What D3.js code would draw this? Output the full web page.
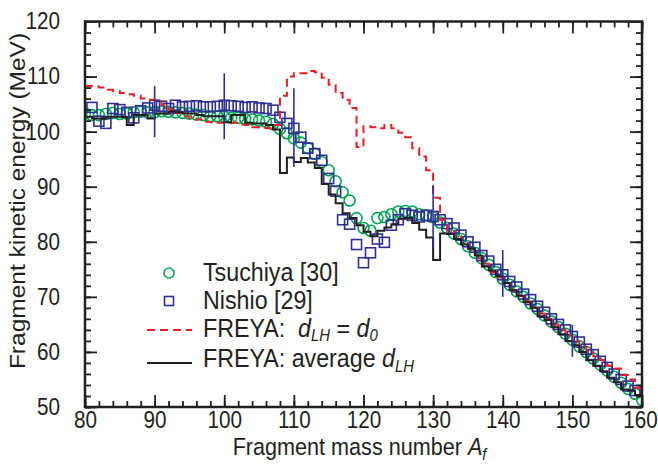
<!DOCTYPE html>
<html>
<head>
<meta charset="utf-8">
<script src="https://cdn.jsdelivr.net/npm/d3@7"></script>
<style>
  body { margin: 0; background: #fff; }
  svg text { font-family: "Liberation Sans", Arial, sans-serif; fill: #231f20; }
</style>
</head>
<body>
<svg id="chart" width="658" height="464"></svg>
<script>
// Tsuchiya [30], A = 80..160
const tsuA = d3.range(80, 161);
const tsuE = [103.3, 103.0, 103.0, 103.2, 103.4, 103.2, 103.3, 103.5, 103.6, 103.5,
  103.5, 103.7, 103.6, 103.5, 103.4, 103.3, 103.1, 103.0, 102.8, 102.8,
  102.7, 102.5, 102.5, 102.3, 102.2, 102.0, 101.8, 101.4, 100.5, 99.7,
  98.8, 98.0, 97.0, 96.0, 94.5, 93.0, 91.0, 89.0, 87.5, 84.3,
  82.5, 82.0, 84.3, 84.5, 85.0, 85.5, 85.6, 85.5, 85.0, 84.8,
  84.5, 83.5, 82.5, 81.5, 80.5, 79.2, 78.0, 77.0, 75.8, 74.5,
  73.3, 72.2, 71.0, 70.0, 68.8, 67.8, 66.6, 65.5, 64.5, 63.3,
  62.2, 61.0, 60.0, 58.8, 57.7, 56.6, 55.5, 54.4, 53.3, 52.4, 51.3];

// Nishio [29], A = 81..159
const niA = d3.range(81, 160);
const niE = [104.4, 101.9, 101.5, 104.2, 104.0, 103.5, 102.5, 103.8, 104.3,
  104.8, 104.6, 104.2, 104.8, 104.5, 104.6, 104.7, 104.5, 104.5, 104.6,
  104.8, 104.7, 104.6, 104.4, 104.5, 104.3, 104.2, 103.9, 102.6, 101.5,
  100.6, 99.0, 97.0, 96.0, 94.8, 91.5, 89.2, 84.0, 83.2, 79.5,
  76.2, 78.0, 80.5, 79.9, 83.0, 84.0, 85.1, 84.8, 84.5, 84.8,
  84.6, 84.0, 83.3, 82.5, 81.2, 80.0, 79.0, 77.5, 76.5, 75.0,
  74.0, 72.8, 71.8, 70.5, 69.5, 68.3, 67.2, 66.0, 65.0, 64.0,
  62.8, 61.8, 60.5, 59.5, 58.3, 57.2, 56.0, 55.0, 53.8, 53.0];

// error bars on Nishio data
const errA = [90, 100, 110, 130, 140, 150];
const errLo = [99.0, 98.6, 93.6, 79.0, 70.0, 59.1];
const errHi = [108.3, 110.6, 107.9, 90.3, 78.5, 64.9];

// FREYA histograms, bins [A, A+1), A = 80..159
const binA = d3.range(80, 160);
const freyaD0 = [108.3, 108.2, 108.0, 107.6, 107.4, 107.0, 106.8, 106.5, 106.0, 105.8,
  105.5, 104.8, 104.0, 103.4, 102.8, 102.4, 102.2, 101.8, 101.7, 101.6,
  101.6, 101.6, 101.3, 101.2, 100.8, 100.7, 100.6, 101.2, 106.5, 110.0,
  110.6, 110.6, 111.0, 110.8, 109.8, 108.5, 107.0, 105.8, 104.3, 97.2,
  101.0, 100.8, 100.6, 101.2, 100.6, 99.8, 99.0, 97.0, 95.5, 93.0,
  88.0, 84.0, 82.0, 81.0, 79.8, 78.5, 77.0, 76.0, 74.5, 73.5,
  72.5, 71.2, 70.2, 69.2, 68.0, 67.0, 66.0, 65.0, 64.0, 63.0,
  62.0, 61.0, 60.3, 59.2, 58.5, 57.5, 57.0, 55.8, 55.0, 53.5];
const freyaAvg = [102.7, 102.4, 102.4, 102.7, 102.7, 102.7, 101.2, 103.0, 103.0, 102.4,
  103.3, 103.3, 103.6, 103.5, 103.3, 103.3, 103.0, 102.8, 102.8, 102.8,
  101.7, 103.0, 103.0, 101.6, 101.5, 101.5, 101.2, 100.4, 92.5, 95.3,
  94.5, 95.2, 94.4, 93.4, 90.5, 88.6, 87.0, 85.2, 84.3, 83.0,
  81.8, 81.0, 82.0, 82.6, 83.2, 84.2, 84.3, 83.4, 82.2, 80.8,
  76.7, 81.5, 81.4, 80.5, 79.5, 78.8, 77.5, 75.5, 74.8, 73.8,
  72.5, 71.2, 70.2, 69.0, 68.0, 66.5, 65.8, 64.5, 63.2, 62.0,
  61.2, 60.0, 58.5, 57.5, 56.5, 55.3, 54.5, 53.2, 53.0, 52.2];

const xMajor = d3.range(80, 161, 10);
const xMinor = d3.range(80, 161, 2);
const yMajor = d3.range(50, 121, 10);
const yMinor = d3.range(50, 121, 2);

const green = "#00a651", blue = "#2e3192", red = "#ed1c24", ink = "#231f20";

const svg = d3.select("#chart");
const pLeft = 85, pRight = 642, pTop = 21.5, pBottom = 407;

const x = d3.scaleLinear().domain([80, 160]).range([pLeft, pRight]);
const y = d3.scaleLinear().domain([50, 120]).range([pBottom, pTop]);

// text in the figure is a bit taller than it is wide
const sx = 0.9;
const squeeze = (sel, ax, k = sx) => sel.attr("transform", `translate(${ax},0) scale(${k},1) translate(${-ax},0)`);

const plot = svg.append("g");
plot.append("clipPath").attr("id", "clip")
  .append("rect").attr("x", pLeft).attr("y", pTop).attr("width", pRight - pLeft).attr("height", pBottom - pTop);

const data = plot.append("g").attr("clip-path", "url(#clip)");

const step = d3.line().x(d => x(d[0])).y(d => y(d[1])).curve(d3.curveStepAfter);
const stepPts = vals => {
  const pts = binA.map((a, i) => [a, vals[i]]);
  pts.push([binA[binA.length - 1] + 1, vals[vals.length - 1]]);
  return pts;
};

// Tsuchiya circles
data.selectAll("circle.tsu")
  .data(tsuA.map((a, i) => [a, tsuE[i]]))
  .join("circle")
  .attr("class", "tsu")
  .attr("cx", d => x(d[0])).attr("cy", d => y(d[1]))
  .attr("r", 5.5)
  .attr("fill", "none").attr("stroke", green).attr("stroke-width", 1.6);

// Nishio squares
const sq = 10;
data.selectAll("rect.ni")
  .data(niA.map((a, i) => [a, niE[i]]))
  .join("rect")
  .attr("class", "ni")
  .attr("x", d => x(d[0]) - sq / 2).attr("y", d => y(d[1]) - sq / 2)
  .attr("width", sq).attr("height", sq)
  .attr("fill", "none").attr("stroke", blue).attr("stroke-width", 1.6);

// FREYA step lines
data.append("path")
  .attr("d", step(stepPts(freyaD0)))
  .attr("fill", "none").attr("stroke", red).attr("stroke-width", 2)
  .attr("stroke-dasharray", "8,5");

data.append("path")
  .attr("d", step(stepPts(freyaAvg)))
  .attr("fill", "none").attr("stroke", ink).attr("stroke-width", 2);

// error bars
data.selectAll("line.err")
  .data(errA.map((a, i) => [a, errLo[i], errHi[i]]))
  .join("line")
  .attr("class", "err")
  .attr("x1", d => x(d[0])).attr("x2", d => x(d[0]))
  .attr("y1", d => y(d[1])).attr("y2", d => y(d[2]))
  .attr("stroke", blue).attr("stroke-width", 1.6);

// axes with inward ticks on all four sides
const fs = "23px";
function styleAxis(g) {
  g.select(".domain").remove();
  g.selectAll(".tick line").attr("stroke", ink).attr("stroke-width", 1.8);
  g.selectAll(".tick text").attr("font-size", fs).attr("fill", ink);
}
svg.append("g").attr("transform", `translate(0,${pBottom})`)
  .call(d3.axisBottom(x).tickValues(xMinor).tickSize(-6).tickFormat("")).call(styleAxis);
svg.append("g").attr("transform", `translate(0,${pBottom})`)
  .call(d3.axisBottom(x).tickValues(xMajor).tickSize(-12).tickPadding(5).tickFormat(d3.format("d")))
  .call(styleAxis)
  // last label sits at the page edge: nudge it in a little
  .call(g => g.selectAll(".tick text")
    .attr("transform", d => d === 160 ? `translate(-2,0) scale(${sx},1)` : `scale(${sx},1)`));
svg.append("g").attr("transform", `translate(0,${pTop})`)
  .call(d3.axisTop(x).tickValues(xMinor).tickSize(-6).tickFormat("")).call(styleAxis);
svg.append("g").attr("transform", `translate(0,${pTop})`)
  .call(d3.axisTop(x).tickValues(xMajor).tickSize(-12).tickFormat("")).call(styleAxis);
svg.append("g").attr("transform", `translate(${pLeft},0)`)
  .call(d3.axisLeft(y).tickValues(yMinor).tickSize(-6).tickFormat("")).call(styleAxis);
svg.append("g").attr("transform", `translate(${pLeft},0)`)
  .call(d3.axisLeft(y).tickValues(yMajor).tickSize(-12).tickPadding(25).tickFormat(d3.format("d")))
  .call(styleAxis)
  .call(g => squeeze(g.selectAll(".tick text"), -25));
svg.append("g").attr("transform", `translate(${pRight},0)`)
  .call(d3.axisRight(y).tickValues(yMinor).tickSize(-6).tickFormat("")).call(styleAxis);
svg.append("g").attr("transform", `translate(${pRight},0)`)
  .call(d3.axisRight(y).tickValues(yMajor).tickSize(-12).tickFormat("")).call(styleAxis);

svg.append("rect")
  .attr("x", pLeft).attr("y", pTop).attr("width", pRight - pLeft).attr("height", pBottom - pTop)
  .attr("fill", "none").attr("stroke", ink).attr("stroke-width", 2.5);

// axis titles
svg.append("text")
  .attr("transform", `translate(25,201) rotate(-90) scale(1,${sx})`)
  .attr("text-anchor", "middle").attr("font-size", "24.5px")
  .text("Fragment kinetic energy (MeV)");

const xc = (pLeft + pRight) / 2 - 4;
const xt = svg.append("text")
  .attr("x", xc).attr("y", 455)
  .attr("text-anchor", "middle").attr("font-size", "24px")
  .call(squeeze, xc);
xt.append("tspan").text("Fragment mass number ");
xt.append("tspan").attr("font-style", "italic").text("A");
xt.append("tspan").attr("font-style", "italic").attr("font-size", "16px").attr("dy", 5).text("f");

// legend
const lg = svg.append("g");
const tx = 203, lfs = "25px", lk = 0.93;
lg.append("circle").attr("cx", 169).attr("cy", 273).attr("r", 5)
  .attr("fill", "none").attr("stroke", green).attr("stroke-width", 1.6);
lg.append("text").attr("x", tx).attr("y", 281).attr("font-size", lfs).text("Tsuchiya [30]").call(squeeze, tx, lk);
lg.append("rect").attr("x", 164.5).attr("y", 296.5).attr("width", 9).attr("height", 9)
  .attr("fill", "none").attr("stroke", blue).attr("stroke-width", 1.6);
lg.append("text").attr("x", tx).attr("y", 309).attr("font-size", lfs).text("Nishio [29]").call(squeeze, tx, lk);
lg.append("line").attr("x1", 147).attr("x2", 192).attr("y1", 330).attr("y2", 330)
  .attr("stroke", red).attr("stroke-width", 2).attr("stroke-dasharray", "8,5");
const t3 = lg.append("text").attr("x", tx).attr("y", 337).attr("font-size", lfs).call(squeeze, tx, lk);
t3.append("tspan").text("FREYA:\u00a0\u00a0");
t3.append("tspan").attr("font-style", "italic").text("d");
t3.append("tspan").attr("font-style", "italic").attr("font-size", "16px").attr("dy", 4).text("LH");
t3.append("tspan").attr("dy", -4).text(" = ");
t3.append("tspan").attr("font-style", "italic").text("d");
t3.append("tspan").attr("font-style", "italic").attr("font-size", "16px").attr("dy", 4).text("0");
lg.append("line").attr("x1", 147).attr("x2", 192).attr("y1", 363).attr("y2", 363)
  .attr("stroke", ink).attr("stroke-width", 2);
const t4 = lg.append("text").attr("x", tx).attr("y", 367).attr("font-size", lfs).call(squeeze, tx, lk);
t4.append("tspan").text("FREYA: average ");
t4.append("tspan").attr("font-style", "italic").text("d");
t4.append("tspan").attr("font-style", "italic").attr("font-size", "16px").attr("dy", 5).text("LH");
</script>
</body>
</html>
